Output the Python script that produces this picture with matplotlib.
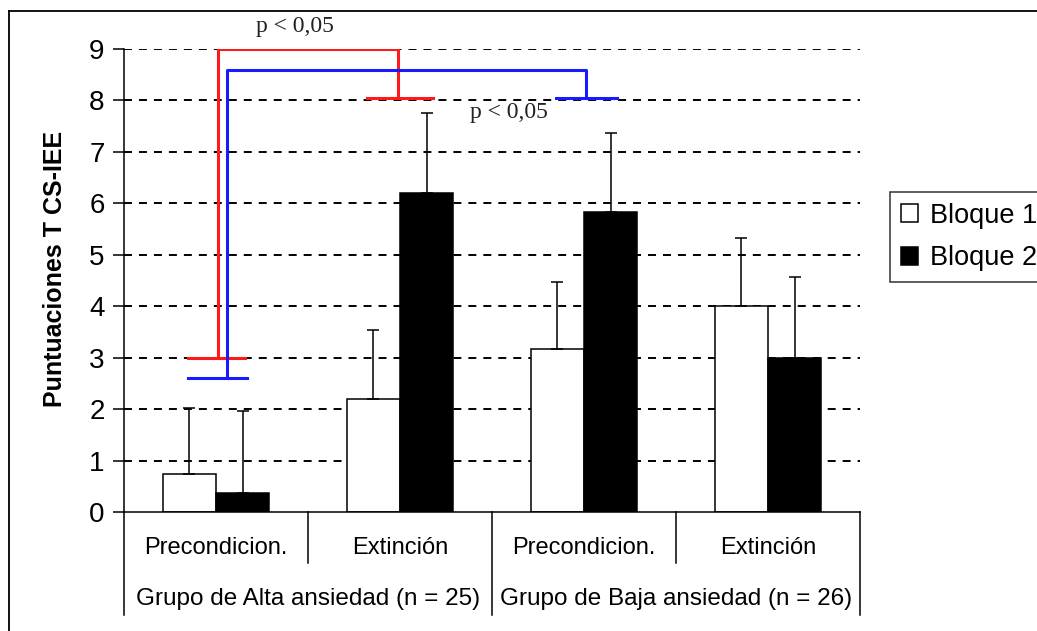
import numpy as np
import matplotlib.pyplot as plt
from matplotlib.lines import Line2D
from matplotlib.patches import Patch

plt.rcParams['font.family'] = ['Liberation Sans', 'DejaVu Sans']

# Mean scores and upper error for each phase / group
categories = ['Precondicion.', 'Extinción', 'Precondicion.', 'Extinción']
groups = ['Grupo de Alta ansiedad (n = 25)', 'Grupo de Baja ansiedad (n = 26)']
bloque1 = [0.74, 2.20, 3.17, 4.00]
bloque2 = [0.37, 6.20, 5.83, 3.00]
err1 = [1.29, 1.34, 1.30, 1.33]
err2 = [1.60, 1.56, 1.53, 1.56]
yticks = list(range(0, 10))

W, H = 1037, 631
fig = plt.figure(figsize=(W / 100, H / 100), dpi=100)
ax = fig.add_axes([124 / W, 1 - 512 / H, 736 / W, 463 / H])

x = np.arange(len(categories))
bw = 0.29

# dashed horizontal grid behind the bars
for yv in yticks[1:]:
    ax.axhline(yv, color='black', lw=1.4, ls=(0, (4.1, 3.6)), zorder=0)

ax.bar(x - bw / 2, bloque1, bw, color='white', edgecolor='black', lw=1.1, zorder=2)
ax.bar(x + bw / 2, bloque2, bw, color='black', edgecolor='black', lw=1.1, zorder=2)
ax.errorbar(x - bw / 2, bloque1, yerr=[np.zeros(4), err1], fmt='none',
            ecolor='black', elinewidth=1.1, capsize=4.3, capthick=1.1, zorder=3)
ax.errorbar(x + bw / 2, bloque2, yerr=[np.zeros(4), err2], fmt='none',
            ecolor='black', elinewidth=1.1, capsize=4.3, capthick=1.1, zorder=1)

ax.set_xlim(-0.5, 3.5)
ax.set_ylim(0, 9)
ax.set_yticks(yticks)
ax.set_xticks([])
ax.tick_params(axis='y', length=8, width=1.1, pad=6, labelsize=20)
for s in ['top', 'right']:
    ax.spines[s].set_visible(False)
ax.spines['left'].set_linewidth(1.1)
ax.spines['bottom'].set_linewidth(1.1)

ax.set_ylabel('Puntuaciones T CS-IEE', fontsize=18, fontweight='bold')
ax.yaxis.set_label_coords(-0.077, 0.525)

# significance brackets
red, blue = '#ff1a1a', '#1a1aff'
ax.plot([0.01, 0.01, 0.99, 0.99], [3.0, 9.0, 9.0, 8.05], color=red, lw=2.2, zorder=4)
ax.plot([-0.15, 0.16], [3.0, 3.0], color=red, lw=2.2, zorder=4)
ax.plot([0.82, 1.18], [8.05, 8.05], color=red, lw=2.2, zorder=4)
ax.plot([0.06, 0.06, 2.01, 2.01], [2.6, 8.6, 8.6, 8.05], color=blue, lw=2.2, zorder=4)
ax.plot([-0.15, 0.17], [2.6, 2.6], color=blue, lw=2.2, zorder=4)
ax.plot([1.85, 2.18], [8.05, 8.05], color=blue, lw=2.2, zorder=4)

pfont = dict(family='Liberation Serif', fontsize=17, color='#222222',
             ha='center', va='center')
ax.text(0.43, 9.43, 'p < 0,05', clip_on=False, **pfont)
ax.text(1.59, 7.76, 'p < 0,05', **pfont)

# category table under the axis
tr = ax.get_xaxis_transform()
for xv in [-0.5, 1.5, 3.5]:
    ax.plot([xv, xv], [0, -0.2225], transform=tr, color='black', lw=1.1, clip_on=False)
for xv in [0.5, 2.5]:
    ax.plot([xv, xv], [0, -0.110], transform=tr, color='black', lw=1.1, clip_on=False)
for xv, lab in zip(x, categories):
    ax.text(xv, -0.078, lab, transform=tr, ha='center', va='center', fontsize=17)
for xv, lab in zip([0.5, 2.5], groups):
    ax.text(xv, -0.188, lab, transform=tr, ha='center', va='center', fontsize=17.5)

handles = [Patch(facecolor='white', edgecolor='black', lw=1.1, label='Bloque 1'),
           Patch(facecolor='black', edgecolor='black', lw=1.1, label='Bloque 2')]
leg = fig.legend(handles=handles, loc='upper left', bbox_to_anchor=(890 / W, 1 - 192 / H),
                 fontsize=19.5, frameon=True, fancybox=False, edgecolor='black',
                 handlelength=0.64, handleheight=0.64, handletextpad=0.45,
                 borderpad=0.4, labelspacing=0.6, borderaxespad=0)
leg.get_frame().set_linewidth(1.1)

# outer chart border
fig.add_artist(Line2D([9 / W, 1.01], [1 - 11 / H] * 2, transform=fig.transFigure,
                      color='black', lw=1.3))
fig.add_artist(Line2D([9 / W] * 2, [1 - 11 / H, -0.01], transform=fig.transFigure,
                      color='black', lw=1.3))

fig.savefig('out.png', dpi=100)
